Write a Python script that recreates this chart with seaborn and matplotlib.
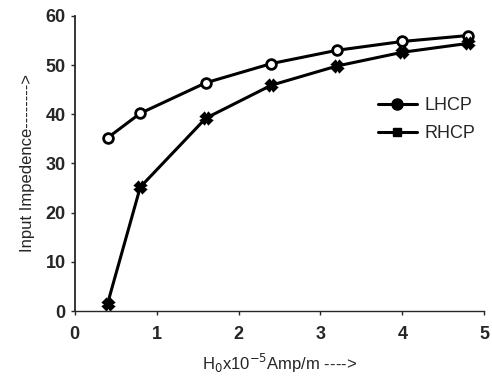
import matplotlib
matplotlib.use("Agg")
import matplotlib.pyplot as plt
import seaborn as sns
import pandas as pd

x_vals = [0.4, 0.8, 1.6, 2.4, 3.2, 4.0, 4.8]
lhcp = [35.2, 40.2, 46.4, 50.3, 53.0, 54.8, 56.0]
rhcp = [1.5, 25.2, 39.2, 45.9, 49.8, 52.6, 54.4]
x_ticks = [0, 1, 2, 3, 4, 5]
y_ticks = [0, 10, 20, 30, 40, 50, 60]

sns.set_style("ticks")
plt.rcParams['font.family'] = ['Liberation Sans', 'DejaVu Sans']

df = pd.concat([
    pd.DataFrame({"x": x_vals, "y": lhcp, "s": "LHCP"}),
    pd.DataFrame({"x": x_vals, "y": rhcp, "s": "RHCP"}),
])

fig = plt.figure(figsize=(4.92, 3.78), dpi=100)
ax = fig.add_axes([0.152, 0.177, 0.832, 0.781])
sns.lineplot(data=df, x="x", y="y", hue="s", style="s",
             palette={"LHCP": "black", "RHCP": "black"},
             markers={"LHCP": "o", "RHCP": "X"}, dashes=False,
             markersize=7, linewidth=2.2, ax=ax, legend=False)
for line, fc in zip(ax.lines, ["white", "black"]):
    line.set_markerfacecolor(fc)
    line.set_markeredgecolor("black")
    line.set_markeredgewidth(2)

from matplotlib.lines import Line2D
handles = [Line2D([], [], color="black", lw=2.2, marker="o", markersize=8, label="LHCP"),
           Line2D([], [], color="black", lw=2.2, marker="s", markersize=6, label="RHCP")]
ax.legend(handles=handles, loc="upper left", bbox_to_anchor=(0.70, 0.78), frameon=False,
          fontsize=13, handlelength=2.2, handletextpad=0.4, labelspacing=0.6)

ax.set_xlim(0, 5)
ax.set_ylim(0, 60)
ax.set_xticks(x_ticks)
ax.set_yticks(y_ticks)
ax.tick_params(labelsize=13, width=1, length=3)
ax.tick_params(axis="x", pad=8)
for lab in ax.get_xticklabels() + ax.get_yticklabels():
    lab.set_fontweight("bold")
ax.set_xlabel(r"H$_0$x10$^{-5}$Amp/m ---->", fontsize=12, labelpad=6)
ax.set_ylabel("Input Impedence-------->", fontsize=12, labelpad=8)
sns.despine(ax=ax)
ax.spines["left"].set_linewidth(1.3)
ax.spines["bottom"].set_linewidth(1.0)
fig.savefig("out.png", dpi=100)
